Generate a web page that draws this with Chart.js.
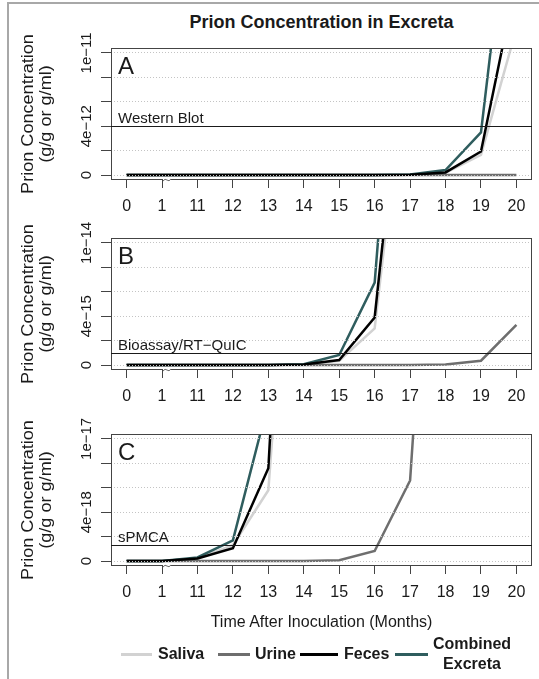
<!DOCTYPE html>
<html>
<head>
<meta charset="utf-8">
<title>Prion Concentration in Excreta</title>
<script src="https://cdn.jsdelivr.net/npm/chart.js@4.4.1/dist/chart.umd.min.js"></script>
<style>
  html, body { margin: 0; padding: 0; background: #fff; }
  body {
    width: 539px; height: 679px; position: relative; overflow: hidden;
    font-family: 'Liberation Sans', Arial, sans-serif; color: #1a1a1a;
  }
  .frame {
    position: absolute; left: 7px; top: 2px; width: 560px; height: 700px;
    border-left: 2px solid #a8a8a8; border-top: 2px solid #a8a8a8;
  }
  .panel { position: absolute; left: 0; }
  #title {
    position: absolute; top: 13px; left: 111px; width: 421px; line-height: 18px;
    text-align: center; font-weight: bold; font-size: 18px;
  }
  #xtitle {
    position: absolute; top: 613px; left: 111px; width: 421px; line-height: 18px;
    text-align: center; font-size: 16px;
  }
  .lg-line { position: absolute; top: 653px; height: 3px; }
  .lg-text { position: absolute; font-weight: bold; font-size: 16px; line-height: 18px; }
</style>
</head>
<body>
<div class="frame"></div>
<div id="title">Prion Concentration in Excreta</div>

<canvas id="panel-a" class="panel" width="539" height="220" style="top:0px"></canvas>
<canvas id="panel-b" class="panel" width="539" height="220" style="top:190px"></canvas>
<canvas id="panel-c" class="panel" width="539" height="220" style="top:386px"></canvas>

<div id="xtitle">Time After Inoculation (Months)</div>

<div class="lg-line" style="left:121px;width:31px;background:#d2d2d2"></div>
<div class="lg-text" style="left:158px;top:645px">Saliva</div>
<div class="lg-line" style="left:218px;width:32px;background:#6e6e6e"></div>
<div class="lg-text" style="left:255px;top:645px">Urine</div>
<div class="lg-line" style="left:300px;width:38px;background:#000"></div>
<div class="lg-text" style="left:344px;top:645px">Feces</div>
<div class="lg-line" style="left:395px;width:33px;background:#2f5d5e"></div>
<div class="lg-text" style="left:428px;top:634px;width:88px;text-align:center;line-height:20px">Combined<br>Excreta</div>

<script>
  'use strict';

  // months after inoculation (axis is broken between 1 and 11)
  const months = ['0', '1', '11', '12', '13', '14', '15', '16', '17', '18', '19', '20'];

  // prion concentration (g/g or g/ml), one value per month above
  const saliva   = [0, 0, 2e-19, 1.3e-18, 5.8e-18, 4.5e-17, 3.5e-16, 3.0e-15, 2.8e-14, 2.0e-13, 1.65e-12, 1.2e-11];
  const urine    = [0, 0, 0, 0, 0, 1e-20, 8e-20, 8.3e-19, 6.6e-18, 5e-17, 3.6e-16, 3.3e-15];
  const feces    = [0, 0, 2.2e-19, 1.05e-18, 7.6e-18, 6e-17, 4.1e-16, 3.9e-15, 3.1e-14, 2.2e-13, 1.93e-12, 1.6e-11];
  const combined = [0, 0, 3e-19, 1.7e-18, 1.3e-17, 8e-17, 8.3e-16, 6.75e-15, 4.3e-14, 4.1e-13, 3.5e-12, 2.8e-11];

  // per panel: axis top, grid steps, labelled ticks, detection limit
  const panelLetters = ['A', 'B', 'C'];
  const panelMax = [1e-11, 1e-14, 1e-17];
  const gridA = [0, 2e-12, 4e-12, 6e-12, 8e-12, 1e-11];
  const gridB = [0, 2e-15, 4e-15, 6e-15, 8e-15, 1e-14];
  const gridC = [0, 2e-18, 4e-18, 6e-18, 8e-18, 1e-17];
  const tickValsA = [0, 4e-12, 1e-11];
  const tickValsB = [0, 4e-15, 1e-14];
  const tickValsC = [0, 4e-18, 1e-17];
  const tickLabelsA = ['0', '4e\u221212', '1e\u221211'];
  const tickLabelsB = ['0', '4e\u221215', '1e\u221214'];
  const tickLabelsC = ['0', '4e\u221218', '1e\u221217'];
  const limitValues = [4e-12, 1e-15, 1.3e-18];
  const limitLabels = ['Western Blot', 'Bioassay/RT\u2212QuIC', 'sPMCA'];

  const yTitle = ['Prion Concentration', '(g/g or g/ml)'];
  const fontFamily = '"Liberation Sans", Arial, sans-serif';

  const seriesColors = { saliva: '#d2d2d2', urine: '#6e6e6e', feces: '#000000', combined: '#2f5d5e' };

  function points(values) {
    return values.map(function (v, i) { return { x: i, y: v }; });
  }

  const panelPlugin = {
    id: 'panel',
    afterDraw(chart, args, opts) {
      const ctx = chart.ctx;
      const a = chart.chartArea;
      const x = chart.scales.x;
      const y = chart.scales.y;
      ctx.save();

      // plot box
      ctx.strokeStyle = '#444';
      ctx.lineWidth = 1;
      ctx.strokeRect(Math.round(a.left) + 0.5, Math.round(a.top) + 0.5,
        Math.round(a.right - a.left) - 1, Math.round(a.bottom - a.top) - 1);

      // axis break mark next to month 1
      const bx = x.getPixelForValue(1) + 5;
      const by = Math.round(a.bottom);
      ctx.fillStyle = '#fff';
      ctx.fillRect(bx - 4, by - 1, 8, 3);
      ctx.strokeStyle = '#666';
      ctx.beginPath();
      ctx.moveTo(bx - 4, by + 1);
      ctx.quadraticCurveTo(bx - 2, by - 2, bx, by);
      ctx.quadraticCurveTo(bx + 2, by + 2, bx + 4, by - 1);
      ctx.stroke();

      // detection limit line and label
      const ty = Math.round(y.getPixelForValue(opts.limit)) + 0.5;
      ctx.strokeStyle = '#1a1a1a';
      ctx.beginPath();
      ctx.moveTo(a.left, ty);
      ctx.lineTo(a.right, ty);
      ctx.stroke();
      ctx.fillStyle = '#1a1a1a';
      ctx.font = '15px ' + fontFamily;
      ctx.textAlign = 'left';
      ctx.textBaseline = 'alphabetic';
      ctx.fillText(opts.limitLabel, a.left + 7, ty - 4);

      // panel letter
      ctx.font = '24px ' + fontFamily;
      ctx.fillText(opts.letter, a.left + 7, a.top + 26);

      // rotated y tick labels
      ctx.font = '15px ' + fontFamily;
      ctx.textAlign = 'center';
      opts.tickValues.forEach(function (v, i) {
        ctx.save();
        ctx.translate(91, y.getPixelForValue(v));
        ctx.rotate(-Math.PI / 2);
        ctx.fillText(opts.tickLabels[i], 0, 0);
        ctx.restore();
      });

      // y axis title, two lines
      ctx.font = '16px ' + fontFamily;
      ctx.textBaseline = 'middle';
      const cy = (a.top + a.bottom) / 2;
      [29, 47].forEach(function (cx, i) {
        ctx.save();
        ctx.translate(cx, cy);
        ctx.rotate(-Math.PI / 2);
        ctx.scale(1.13, 1);
        ctx.fillText(yTitle[i], 0, 0);
        ctx.restore();
      });

      ctx.restore();
    }
  };

  function createPanel(id, idx, grid, tickValues, tickLabels) {
    const top = panelMax[idx];
    const lineOpts = { borderWidth: 2.5, pointRadius: 0, tension: 0, fill: false, clip: 0 };
    return new Chart(document.getElementById(id), {
      type: 'line',
      data: {
        datasets: [
          Object.assign({ label: 'Saliva', data: points(saliva), borderColor: seriesColors.saliva, order: 3 }, lineOpts),
          Object.assign({ label: 'Urine', data: points(urine), borderColor: seriesColors.urine, order: 2 }, lineOpts),
          Object.assign({ label: 'Feces', data: points(feces), borderColor: seriesColors.feces, order: 0 }, lineOpts),
          Object.assign({ label: 'Combined Excreta', data: points(combined), borderColor: seriesColors.combined, order: 1 }, lineOpts)
        ]
      },
      options: {
        responsive: false,
        animation: false,
        events: [],
        layout: { padding: { top: 48, right: 7, left: 0, bottom: 0 } },
        plugins: {
          legend: { display: false },
          tooltip: { enabled: false },
          panel: {
            letter: panelLetters[idx],
            limit: limitValues[idx],
            limitLabel: limitLabels[idx],
            tickValues: tickValues,
            tickLabels: tickLabels
          }
        },
        scales: {
          x: {
            type: 'linear',
            min: -0.44,
            max: months.length - 1 + 0.44,
            afterBuildTicks: function (scale) {
              scale.ticks = months.map(function (m, i) { return { value: i }; });
            },
            afterFit: function (scale) { scale.height = 40; },
            ticks: {
              font: { size: 16, family: fontFamily },
              color: '#1a1a1a',
              padding: 9,
              maxRotation: 0,
              autoSkip: false,
              callback: function (v) { return months[v]; }
            },
            grid: { drawOnChartArea: false, tickLength: 8, tickColor: '#444', tickWidth: 1 },
            border: { display: false }
          },
          y: {
            type: 'linear',
            min: -0.04 * top,
            max: 1.04 * top,
            afterBuildTicks: function (scale) {
              scale.ticks = grid.map(function (v) { return { value: v }; });
            },
            afterFit: function (scale) { scale.width = 111; },
            ticks: { display: false },
            grid: {
              color: '#c4c4c4', lineWidth: 1, tickLength: 10, tickColor: '#444', tickWidth: 1,
              tickBorderDash: [], z: 1
            },
            border: { display: false, dash: [1, 2] }
          }
        }
      },
      plugins: [panelPlugin]
    });
  }

  createPanel('panel-a', 0, gridA, tickValsA, tickLabelsA);
  createPanel('panel-b', 1, gridB, tickValsB, tickLabelsB);
  createPanel('panel-c', 2, gridC, tickValsC, tickLabelsC);
</script>
</body>
</html>
